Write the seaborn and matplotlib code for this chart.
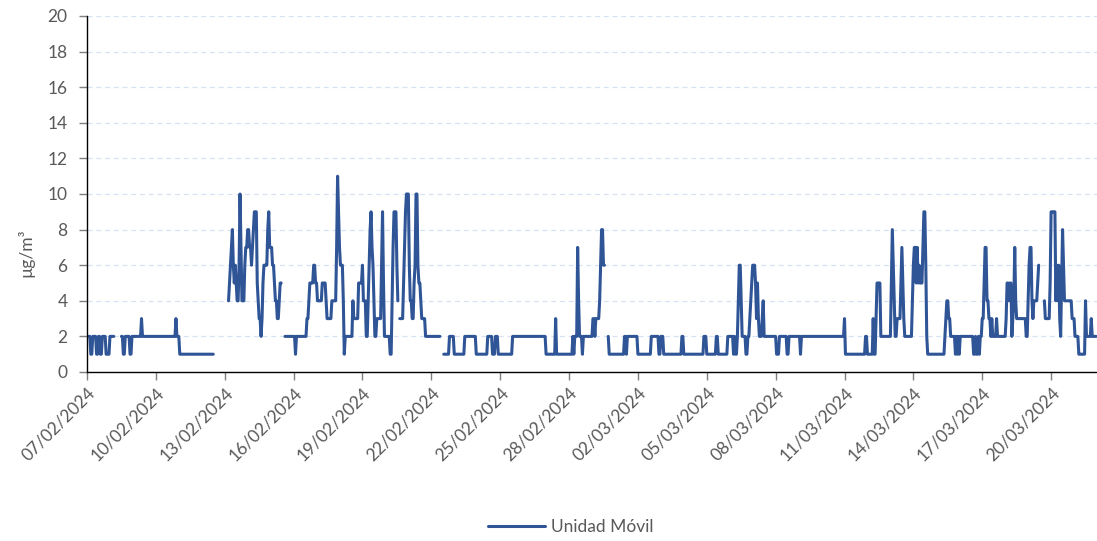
import numpy as np
import pandas as pd
import matplotlib.pyplot as plt
from matplotlib.lines import Line2D
import seaborn as sns

nan = np.nan

# Serie horaria (µg/m³), en tramos: valor y número de horas.
inicio = '2024-02-07 00:00'
valores = [
    2, 1, 2, 1, 2, 1, 2, 1, 2, nan, 2, 1,
    2, 1, 2, 3, 2, 3, 2, 1, nan,
    4, 5, 6, 7, 8, 6, 5, 6, 5, 4, 6, 10,
    7, 4, 6, 7, 8, 7, 6, 7, 8, 9, 5, 4,
    3, 2, 3, 5, 6, 8, 9, 7, 6, 5, 4, 3,
    4, 5,
    nan, 2, 1, 2, 3, 4, 5, 6, 5, 4, 5, 4,
    3, 4, 7, 11, 9, 7, 6, 4, 1, 2, 4, 3,
    5, 6, 4, 2, 4, 6, 8, 9, 7, 6, 4, 2,
    3, 6, 9, 5, 2, 1, 4, 7, 9, 6, 4, nan,
    3, 5, 7, 9, 10, 6, 4, 3, 5, 6, 10, 6,
    5, 4, 3, 2, nan,
    1, 2, 1, 2, 1, 2, 1, 2, 1, 2, 1, 3,
    1, 2, 1, 2, 7, 4, 2, 1, 2, 3, 2, 3,
    4, 6, 8, 6, nan, 2, 1, 2, 1, 2, 1, 2,
    1, 2, 1, 2, 1, 2, 1, 2, 1, 2, 1, 2,
    1, 2, 4, 6, 4, 2, 1, 2, 3, 4, 5, 6,
    5, 3, 5, 3, 2, 3, 4, 2, 1, 2, 1, 2,
    1, 2, 3, 1, 2, 1, 3, 1, 3, 5, 2, 5,
    8, 6, 4, 2, 3, 5, 7, 5, 3, 2, 4, 6,
    7, 5, 7, 5, 6, 5, 7, 9, 6, 2, 1, 2,
    3, 4, 3, 2, 1, 2, 1, 2, 1, 2, 1, 2,
    1, 2, 1, 2, 3, 5, 7, 4, 3, 2, 3, 2,
    3, 2, 3, 5, 4, 5, 2, 3, 4, 7, 4, 3,
    2, 4, 6, 7, 4, 3, 4, 5, 6, nan, 4, 3,
    5, 9, 4, 6, 4, 6, 3, 2, 5, 8, 6, 4,
    3, 2, 1, 4, 2, 3, 2,
]
horas = [
    4, 2, 4, 2, 2, 2, 4, 4, 5, 7, 2, 2,
    5, 2, 10, 1, 35, 1, 3, 36, 15,
    1, 1, 1, 1, 1, 1, 1, 1, 1, 2, 1, 1,
    1, 3, 1, 2, 2, 2, 1, 1, 1, 3, 1, 1,
    2, 1, 1, 1, 4, 1, 1, 3, 2, 1, 2, 2,
    1, 2,
    3, 11, 1, 11, 2, 1, 4, 2, 2, 5, 4, 1,
    5, 5, 1, 1, 1, 1, 3, 1, 1, 8, 1, 5,
    4, 1, 3, 2, 1, 1, 1, 1, 1, 1, 1, 2,
    5, 1, 1, 1, 6, 2, 1, 1, 3, 1, 1, 1,
    4, 1, 1, 1, 3, 1, 2, 2, 1, 1, 2, 1,
    2, 1, 4, 16, 3,
    6, 5, 11, 12, 12, 5, 3, 3, 15, 35, 10, 1,
    17, 1, 1, 3, 1, 1, 3, 1, 10, 2, 1, 4,
    1, 1, 2, 2, 3, 1, 16, 2, 1, 11, 14, 8,
    2, 3, 19, 2, 21, 3, 10, 2, 10, 6, 1, 1,
    2, 1, 1, 2, 1, 4, 2, 2, 1, 1, 1, 3,
    1, 1, 1, 1, 3, 1, 1, 13, 3, 8, 2, 12,
    1, 45, 1, 21, 2, 6, 1, 2, 1, 4, 11, 1,
    1, 1, 1, 2, 4, 1, 1, 1, 1, 8, 1, 1,
    2, 1, 1, 1, 1, 3, 1, 2, 1, 1, 18, 1,
    1, 2, 2, 5, 1, 1, 1, 1, 1, 14, 2, 1,
    2, 1, 1, 2, 2, 1, 2, 2, 2, 1, 1, 4,
    1, 9, 1, 2, 1, 2, 1, 1, 1, 1, 1, 10,
    2, 1, 1, 2, 1, 1, 4, 1, 1, 5, 1, 5,
    1, 5, 1, 1, 1, 1, 1, 1, 1, 1, 1, 8,
    3, 4, 7, 1, 5, 1, 5,
]
fechas_ticks = pd.date_range('2024-02-07', '2024-03-20', freq='3D')
y_ticks = list(range(0, 21, 2))
etiqueta = 'Unidad Móvil'

AZUL = '#2F5597'
GRIS = '#595959'

serie = np.repeat(np.array(valores, dtype=float), horas)
df = pd.DataFrame({
    'fecha': pd.date_range(inicio, periods=len(serie), freq='h'),
    'valor': serie,
})
# cada hueco de datos abre un tramo nuevo
df['tramo'] = df['valor'].isna().cumsum()
df = df.dropna()

sns.set_style('white')
plt.rcParams['font.family'] = ['Lato', 'DejaVu Sans']

fig = plt.figure(figsize=(10.97, 5.41), dpi=100)
ax = fig.add_axes([87/1097, 1 - 372/541, 1 - 87/1097, 356/541])

sns.lineplot(data=df, x='fecha', y='valor', units='tramo', estimator=None,
             color=AZUL, lw=2.2, ax=ax)

ax.set_xlim(pd.Timestamp('2024-02-07'), pd.Timestamp('2024-03-22'))
ax.set_ylim(0, 20)
ax.set_yticks(y_ticks)
ax.set_xticks(fechas_ticks)
ax.set_xticklabels([d.strftime('%d/%m/%Y') for d in fechas_ticks],
                   rotation=45, ha='right', rotation_mode='anchor')

ax.yaxis.grid(True, color='#d6e2f3', linestyle=(0, (4, 3)), lw=0.9)
ax.xaxis.grid(False)
ax.set_axisbelow(True)

for s in ['top', 'right']:
    ax.spines[s].set_visible(False)
for s in ['left', 'bottom']:
    ax.spines[s].set_color('black')
    ax.spines[s].set_linewidth(1)

ax.tick_params(axis='y', left=True, length=6, width=1, color='#7f7f7f',
               labelcolor=GRIS, labelsize=12.5, pad=8)
ax.tick_params(axis='x', bottom=True, length=6, width=1, color='#7f7f7f',
               labelcolor=GRIS, labelsize=12.5, pad=3)

ax.set_xlabel('')
ax.set_ylabel('µg/m³', color=GRIS, fontsize=12.5)
ax.yaxis.set_label_coords(-0.052, 0.335)

fig.legend(handles=[Line2D([0], [0], color=AZUL, lw=2.2)], labels=[etiqueta],
           loc='center', bbox_to_anchor=(0.520, 0.026), frameon=False,
           fontsize=12.5, handlelength=3.3, handletextpad=0.35,
           labelcolor=GRIS)

fig.savefig('out.png', dpi=100)
